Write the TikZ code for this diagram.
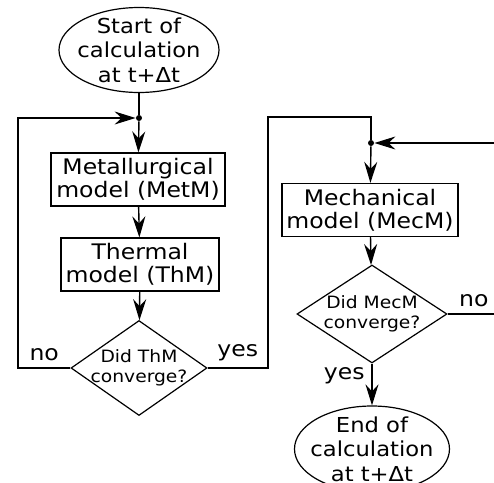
\documentclass[tikz,border=0pt]{standalone}
\usepackage{fontspec}
\setmainfont{DejaVu Sans}[FakeStretch=1.1]
\usetikzlibrary{arrows.meta,shapes.geometric}

\begin{document}
\begin{tikzpicture}[x=0.5pt, y=-0.5pt,
    every node/.style={font=\fontsize{10.7}{11.7}\selectfont, align=center},
    model/.style={draw, rectangle, line width=0.6pt, minimum height=26.5pt, inner sep=0pt},
    terminal/.style={draw, ellipse, line width=0.6pt, inner sep=-10pt,
      font=\fontsize{10.3}{12.2}\selectfont},
    decision/.style={draw, diamond, line width=0.6pt, inner xsep=-12pt, inner ysep=-6pt,
      font=\fontsize{8.5}{10}\selectfont},
    junction/.style={circle, fill, inner sep=0pt, minimum size=3pt},
    wire/.style={line width=0.7pt},
    flow/.style={wire, -{Stealth[length=10.5pt,width=6.5pt,inset=3.5pt]}}]
  \useasboundingbox (0,0) rectangle (494,483);

  % thermal-metallurgical loop
  \node[terminal, minimum width=80pt, minimum height=42.5pt] (start) at (139,50) {Start of\\calculation\\at t+Δt};
  \node[junction] (loopA) at (139,118) {};
  \node[model, minimum width=87pt] (metm) at (138,179.5) {Metallurgical\\model (MetM)};
  \node[model, minimum width=79pt] (thm) at (140,264.5) {Thermal\\model (ThM)};
  \node[decision, minimum width=68pt, minimum height=47.5pt] (thmok) at (139,368) {Did ThM\\converge?};

  \draw[wire] (start) -- (loopA);
  \draw[flow] (loopA) -- (metm);
  \draw[flow] (metm) -- (thm);
  \draw[flow] (thm) -- (thmok);
  \draw[flow] (thmok.west) -- node[above] {no} (18,368) |- (loopA);

  % mechanical loop
  \node[junction] (loopB) at (371,143) {};
  \node[model, minimum width=88pt] (mecm) at (370,210) {Mechanical\\model (MecM)};
  \node[decision, minimum width=75pt, minimum height=49pt] (mecmok) at (372,314) {Did MecM\\converge?};
  \node[terminal, minimum width=77.5pt, minimum height=43pt] (stop) at (372,449) {End of\\calculation\\at t+Δt};

  \draw[wire] (thmok.east) -- node[above] {yes} (268,368) |- (371,117) -- (loopB);
  \draw[flow] (loopB) -- (mecm);
  \draw[flow] (mecm) -- (mecmok);
  \draw[flow] (mecmok.east) -- node[above] {no} (500,314) |- (loopB);
  \draw[flow] (mecmok) -- node[left, pos=0.3] {yes} (stop);
\end{tikzpicture}
\end{document}
